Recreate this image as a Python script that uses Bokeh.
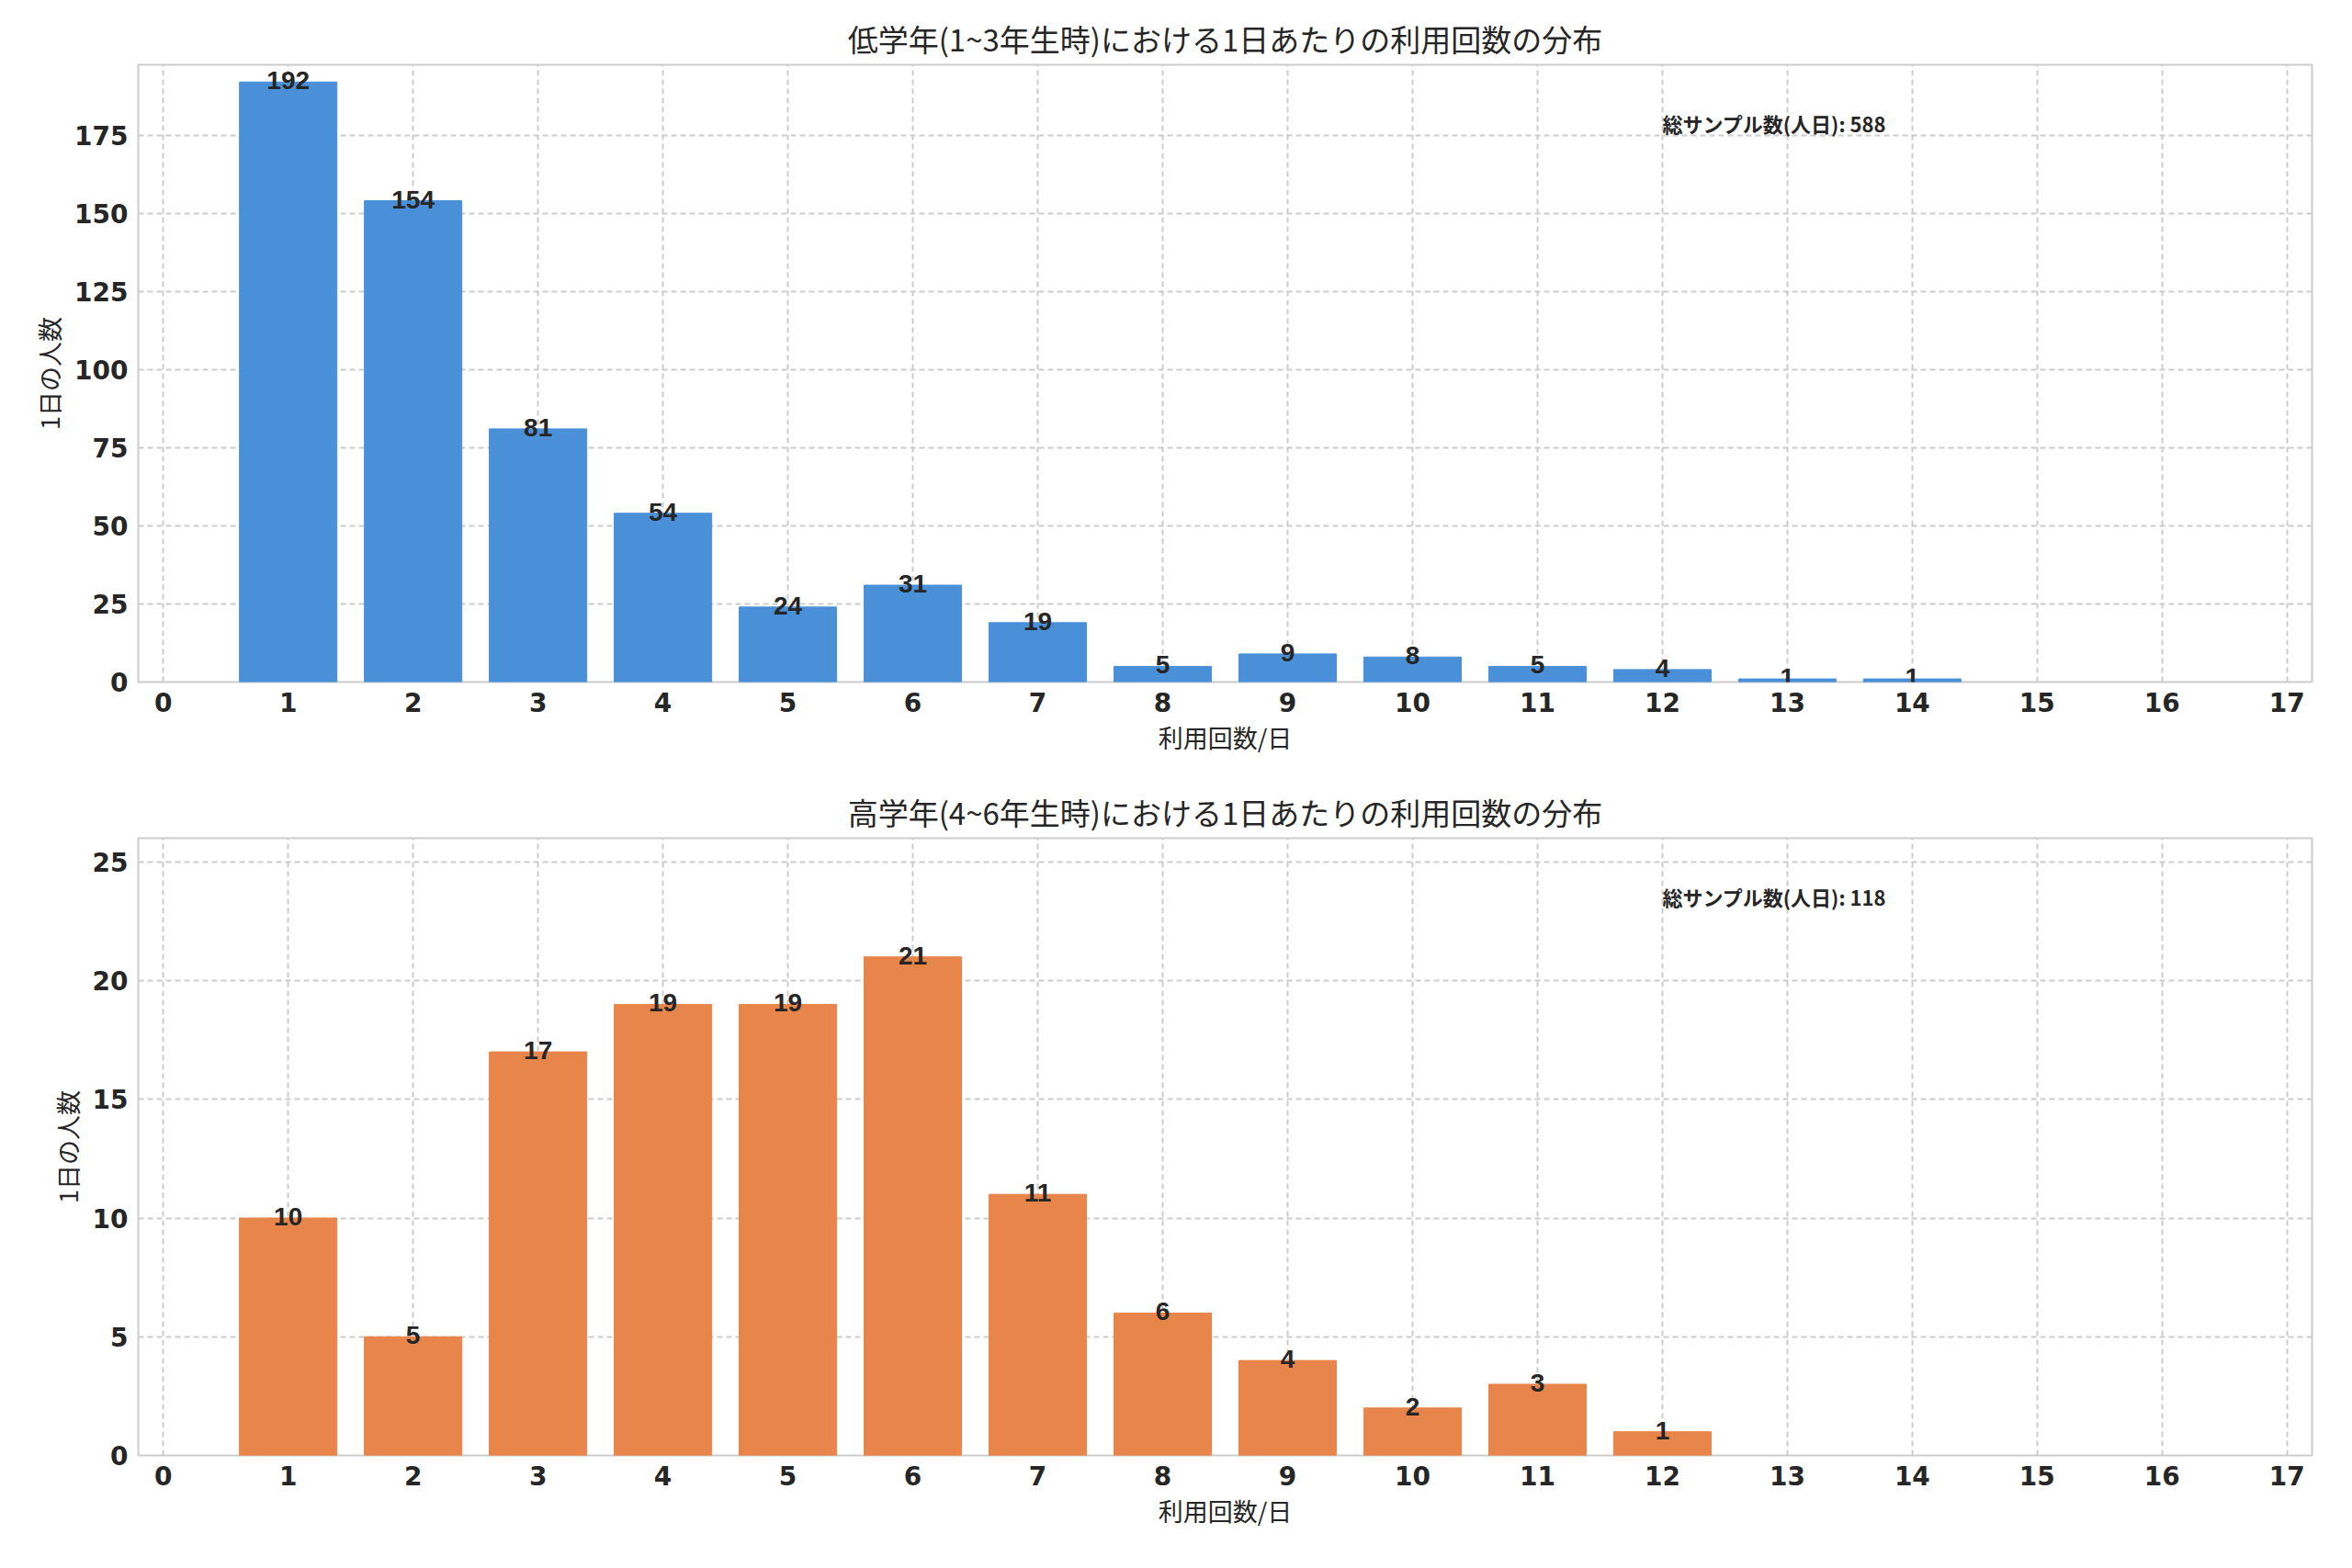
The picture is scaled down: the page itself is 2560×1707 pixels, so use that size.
from bokeh.plotting import figure
from bokeh.layouts import column
from bokeh.models import FixedTicker, Range1d, ColumnDataSource, Label
from bokeh.embed import file_html
from bokeh.resources import INLINE

counts_low = [1, 2, 3, 4, 5, 6, 7, 8, 9, 10, 11, 12, 13, 14]
freq_low = [192, 154, 81, 54, 24, 31, 19, 5, 9, 8, 5, 4, 1, 1]
counts_high = [1, 2, 3, 4, 5, 6, 7, 8, 9, 10, 11, 12]
freq_high = [10, 5, 17, 19, 19, 21, 11, 6, 4, 2, 3, 1]
title_low = "低学年(1~3年生時)における1日あたりの利用回数の分布"
title_high = "高学年(4~6年生時)における1日あたりの利用回数の分布"
xlabel = "利用回数/日"
ylabel = "1日の人数"
note_low = "総サンプル数(人日): 588"
note_high = "総サンプル数(人日): 118"

CJK = "Noto Sans CJK JP"
BF = "DejaVu Sans"

def make(xs, ys, color, title, note, ymax, yticks):
    p = figure(width=2540, height=842, output_backend="svg", toolbar_location=None,
               x_range=Range1d(-0.2, 17.2), y_range=Range1d(0, ymax),
               min_border_left=150, min_border_right=24, min_border_top=70, min_border_bottom=100)
    p.title.text = title
    p.title.text_font = CJK
    p.title.text_font_size = "33px"
    p.title.text_font_style = "normal"
    p.title.align = "center"
    p.title.text_color = "#262626"
    src = ColumnDataSource(dict(x=xs, y=ys, t=[str(v) for v in ys]))
    p.vbar(x="x", top="y", width=0.78, color=color, source=src)
    p.text(x="x", y="y", text="t", source=src, text_align="center", text_baseline="bottom",
           text_font_size="28px", text_font_style="bold", text_color="#262626", y_offset=8)
    p.add_layout(Label(x=12.0, y=ymax * 0.905, text=note, text_font=CJK, text_font_size="22px",
                       text_font_style="bold", text_color="#262626", text_baseline="middle"))
    p.xaxis.ticker = FixedTicker(ticks=list(range(0, 18)))
    p.yaxis.ticker = FixedTicker(ticks=yticks)
    for ax in (p.xaxis[0], p.yaxis[0]):
        ax.major_label_text_font = BF
        ax.major_label_text_font_size = "28px"
        ax.major_label_text_font_style = "bold"
        ax.major_label_text_color = "#262626"
        ax.axis_line_color = None
        ax.major_tick_line_color = None
        ax.minor_tick_line_color = None
        ax.axis_label_text_font = CJK
        ax.axis_label_text_font_size = "27px"
        ax.axis_label_text_font_style = "normal"
        ax.axis_label_text_color = "#262626"
    p.xaxis.axis_label = xlabel
    p.yaxis.axis_label = ylabel
    p.grid.grid_line_color = "#cccccc"
    p.grid.grid_line_dash = "6 4"
    p.grid.grid_line_width = 2
    p.outline_line_color = "#cccccc"
    p.outline_line_width = 2
    return p

p1 = make(counts_low, freq_low, "#4a90d9", title_low, note_low, 197.5, list(range(0, 176, 25)))
p2 = make(counts_high, freq_high, "#e8854a", title_high, note_high, 26, list(range(0, 26, 5)))
layout = column(p1, p2, spacing=0)
open("out.html", "w").write(file_html(layout, INLINE))
